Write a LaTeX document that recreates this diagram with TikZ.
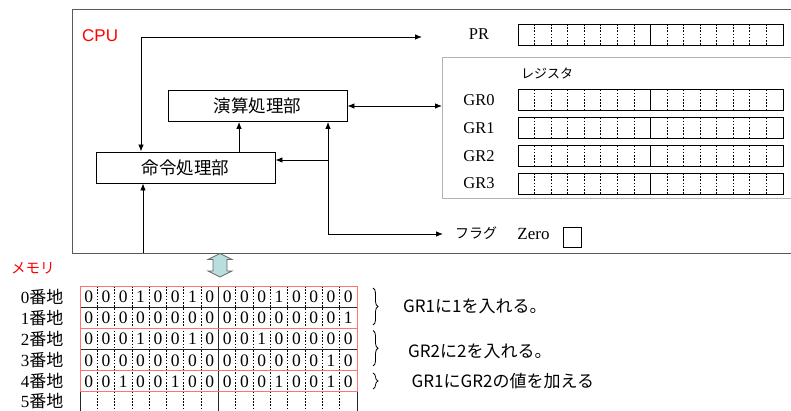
\documentclass[tikz,border=0pt]{standalone}
\usepackage{fontspec}
\setmainfont{Liberation Serif}
\newfontfamily\jp{Noto Sans CJK JP}
\newfontfamily\arialf{Liberation Sans}
\usetikzlibrary{arrows.meta,decorations.pathreplacing}
\newcommand\memrow[2]{%
  \foreach \b [count=\c from 0] in {#2} {%
    \node[bit] (m#1-\c) at ({80+(\c+0.5)*17.3125},{297+#1*21.1}) {\b};}}
\begin{document}
\begin{tikzpicture}[x=1pt,y=-1pt,
  arr/.style={-{Latex[length=7pt,width=5.5pt]}, line width=0.8pt},
  darr/.style={{Latex[length=7pt,width=5.5pt]}-{Latex[length=7pt,width=5.5pt]}, line width=0.8pt},
  unitbox/.style={draw, line width=0.9pt, minimum width=179pt, minimum height=31pt, inner sep=0pt, font=\jp\fontsize{17.5}{17.5}\selectfont},
  regbar/.style={draw, line width=0.9pt, minimum width=265pt, minimum height=21pt, inner sep=0pt},
  reglbl/.style={font=\fontsize{16.5}{16.5}\selectfont, inner sep=0pt},
  bit/.style={font=\fontsize{17.5}{17.5}\selectfont, inner sep=0pt},
  addr/.style={font=\fontsize{17}{17}\selectfont, anchor=east, inner sep=0pt},
  note/.style={font=\jp\fontsize{17}{17}\selectfont, anchor=west, inner sep=0pt},
  redlbl/.style={text=red, inner sep=0pt},
  brc/.style={decorate, decoration={brace, amplitude=5pt}, line width=0.8pt}]
\useasboundingbox (0,0) rectangle (791,411);
% CPU frame
\node[draw=black!65, line width=1.4pt, anchor=north west, minimum width=740pt, minimum height=244pt, inner sep=0pt] (cpu) at (72,9) {};
\node[redlbl, font=\arialf\fontsize{17}{17}\selectfont, anchor=west] (cpulbl) at (82,35.5) {CPU};
% register group
\node[draw=black!30, line width=1pt, anchor=north west, minimum width=360pt, minimum height=141pt, inner sep=0pt] (regbox) at (442,57) {};
\node[font=\jp\fontsize{13}{13}\selectfont, anchor=west, inner sep=0pt] (reglabel) at (521,73) {レジスタ};
% registers
\foreach \nm/\lb/\yy in {PRr/PR/34.5, GR0r/GR0/100, GR1r/GR1/128, GR2r/GR2/156, GR3r/GR3/183.5} {
  \node[regbar] (\nm) at (650.5,\yy) {};
  \node[reglbl] (\nm l) at (479,\yy) {\lb};
  \foreach \i in {1,...,15} {
    \pgfmathsetmacro\xx{518+\i*16.5625}
    \ifnum\i=8
      \draw[line width=0.9pt] (\xx,\yy-10.5) -- (\xx,\yy+10.5);
    \else
      \draw[dash pattern=on 1.6pt off 1.6pt, line width=0.8pt] (\xx,\yy-10.5) -- (\xx,\yy+10.5);
    \fi
  }
}
% flag
\node[font=\jp\fontsize{14}{14}\selectfont, inner sep=0pt] (flaglbl) at (476,233.5) {フラグ};
\node[reglbl, font=\fontsize{17}{17}\selectfont] (zerolbl) at (533.5,234) {Zero};
\node[draw, line width=0.8pt, minimum width=18pt, minimum height=20pt, inner sep=0pt] (zerobox) at (572.5,237) {};
% units
\node[unitbox] (enzan) at (257.5,106) {演算処理部};
\node[unitbox] (meirei) at (185.5,167.5) {命令処理部};
% connectors
\coordinate (prin) at (422,37);
\coordinate (corner) at (141,37);
\draw[darr] (prin) -- (corner) -- (corner |- meirei.north);
\draw[arr] ([xshift=53.5pt]meirei.north) -- ([xshift=53.5pt]meirei.north |- enzan.south);
\draw[darr] (enzan.east) -- (enzan.east -| regbox.west);
\coordinate (busbot) at (328,234);
\coordinate (busmid) at (328,160);
\coordinate (flagin) at (443,234);
\draw[arr] (busbot) -- (busbot |- enzan.south);
\draw[arr] (busbot) -- (flagin);
\draw[arr] (busmid) -- (busmid -| meirei.east);
\coordinate (membus) at (143,253);
\draw[arr] (membus) -- (membus |- meirei.south);
% block double arrow
\draw[fill={rgb,255:red,184;green,222;blue,222}, draw=black!60, line width=0.8pt]
  (220,253.5) -- (232,259.5) -- (227,259.5) -- (227,271) -- (232,271) -- (220,277) -- (208,271) -- (213,271) -- (213,259.5) -- (208,259.5) -- cycle;
% memory
\node[redlbl, font=\jp\fontsize{14.5}{14.5}\selectfont, anchor=west] (memlbl) at (11,268) {メモリ};
\foreach \r in {0,...,4} {
  \node[addr] (a\r) at (63.5,{297+\r*21.1}) {\r{\jp 番地}};
}
\node[addr] (a5) at (63.5,401.5) {5{\jp 番地}};
% grid
\foreach \k in {0,...,6} {
  \draw[line width=0.8pt, black!85] (80,{286+\k*21.1}) -- (357,{286+\k*21.1});
}
\draw[line width=0.8pt, black!85] (80,286) -- (80,415);
\draw[line width=0.8pt, black!85] (357,286) -- (357,415);
\draw[line width=0.9pt, black!85] (218.5,286) -- (218.5,415);
\foreach \i in {1,...,15} {
  \ifnum\i=8 \else
    \draw[dash pattern=on 1.6pt off 1.6pt, line width=0.8pt] ({80+\i*17.3125},286) -- ({80+\i*17.3125},415);
  \fi
}
\draw[line width=0.8pt, red!55] (80,286) rectangle (357,328.2);
\draw[line width=0.8pt, red!55] (80,328.2) rectangle (357,370.4);
\draw[line width=0.8pt, red!55] (80,370.4) rectangle (357,391.5);
\memrow{0}{0,0,0,1,0,0,1,0,0,0,0,1,0,0,0,0}
\memrow{1}{0,0,0,0,0,0,0,0,0,0,0,0,0,0,0,1}
\memrow{2}{0,0,0,1,0,0,1,0,0,0,1,0,0,0,0,0}
\memrow{3}{0,0,0,0,0,0,0,0,0,0,0,0,0,0,1,0}
\memrow{4}{0,0,1,0,0,1,0,0,0,0,0,1,0,0,1,0}
% braces and notes
\draw[brc] (373,288) -- (373,325);
\draw[brc] (373,330.5) -- (373,366);
\draw[brc] (373,373) -- (373,389);
\node[note] (n1) at (403,306) {GR1に1を入れる。};
\node[note] (n2) at (408,351) {GR2に2を入れる。};
\node[note] (n3) at (411.5,381.5) {GR1にGR2の値を加える};
\end{tikzpicture}
\end{document}
